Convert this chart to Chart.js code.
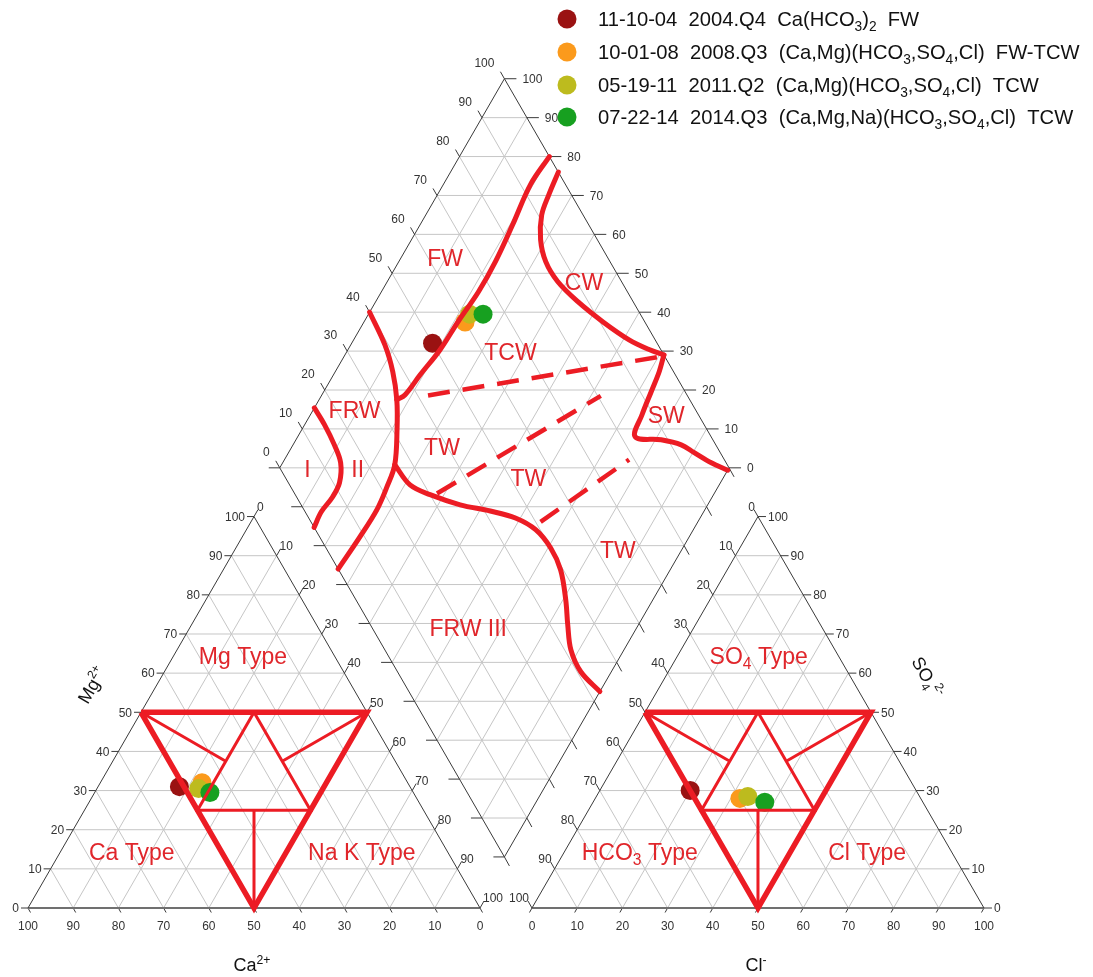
<!DOCTYPE html>
<html>
<head>
<meta charset="utf-8">
<title>Piper diagram</title>
<script src="https://cdn.jsdelivr.net/npm/chart.js@4.4.1/dist/chart.umd.min.js"></script>
<style>
  html, body { margin: 0; padding: 0; background: #fff; }
  #piper { display: block; }
</style>
</head>
<body>
<canvas id="piper" width="1093" height="977"></canvas>
<script>
// samples, meq %
const sampleDates = ['11-10-04', '10-01-08', '05-19-11', '07-22-14'];
const sampleQuarters = ['2004.Q4', '2008.Q3', '2011.Q2', '2014.Q3'];
const sampleTypes = ['Ca(HCO_3)_2', '(Ca,Mg)(HCO_3,SO_4,Cl)', '(Ca,Mg)(HCO_3,SO_4,Cl)', '(Ca,Mg,Na)(HCO_3,SO_4,Cl)'];
const sampleFacies = ['FW', 'FW-TCW', 'TCW', 'TCW'];
const sampleColors = ['#9a1212', '#fb9a1c', '#bdbb1e', '#17a020'];
const ca = [51, 45.5, 47, 45];
const mg = [31, 32, 30.5, 29.5];
const nak = [18, 22.5, 22.5, 25.5];
const hco3 = [50, 40, 38, 35];
const so4 = [30, 28, 28.5, 27];
const cl = [20, 32, 33.5, 38];

const tickValues = [0, 10, 20, 30, 40, 50, 60, 70, 80, 90, 100];

// facies boundaries in the diamond, as [Ca+Mg %, SO4+Cl %]
const fwBoundary = [[80, 100], [80.6, 92.2], [79.4, 83], [78.5, 74.5], [78.4, 66.8], [79.1, 58.5], [79.5, 50.8], [80.7, 43.2], [81.5, 37.2], [82.7, 34.8]];
const frwBoundary = [[100, 40], [92.4, 39.2], [87.2, 37.5], [82.7, 34.8], [78.8, 31], [74.8, 26], [73.7, 21.4], [73, 16.2], [73.3, 8.9], [74, 0]];
const frwSplit = [[100, 15.4], [95.6, 15.5], [90.8, 15.1], [87.1, 14.2], [84.8, 11.4], [84.5, 8], [85.1, 3.6], [84.7, 0]];
const twBoundary = [[74.8, 26], [68.8, 26.8], [63.1, 30], [55.1, 35.4], [47.6, 41.3], [41.1, 46], [35.1, 49], [29.4, 50], [24.4, 49.4], [19.4, 46.7], [15.7, 43.9], [11.8, 41.4], [6.8, 40.8], [0, 42.5]];
const cwBoundary = [[76, 100], [75.2, 94.9], [74.2, 90.8], [71.3, 87.4], [67.3, 85.7], [62.1, 85.8], [55, 87.7], [46.8, 90.7], [38.7, 94.2], [33, 97.4], [29, 100]];
const swBoundary = [[29, 100], [27.9, 96.8], [27.1, 92.4], [26.2, 87.5], [24.9, 83.1], [18.7, 88.5], [13.6, 92.3], [9.7, 94.2], [4.6, 96.7], [0, 99.4]];
const dashedBoundaries = [
  [[76.3, 42.3], [29.4, 99.2]],
  [[61.7, 31.7], [37.8, 80.7]],
  [[35, 51.1], [23.3, 78.8]],
];

// dominant-type subdivision of each triangle, as [left corner %, top corner %]
const typeOuter = [[50, 50], [0, 50], [50, 0], [50, 50]];
const typeInner = [[25, 50], [50, 25], [25, 25], [25, 50]];
const typeSpokes = [[[50, 50], [37.5, 37.5]], [[0, 50], [25, 37.5]], [[50, 0], [37.5, 25]]];

// label anchors
const diamondNames = [['FW', 90.2, 63.8], ['CW', 56.2, 91.6], ['TCW', 63.6, 66.3], ['FRW', 90.8, 24.1], ['SW', 20.8, 92.8],
  ['TW', 66.6, 38.8], ['TW', 43.4, 54.1], ['I', 93.7, 6], ['II', 82.5, 17.2], ['TW', 14.2, 64.7], ['FRW III', 37.5, 21.4]];
const cationNames = [['Mg Type', 20.2, 64.5], ['Ca Type', 69.8, 14.5], ['Na K Type', 18.9, 14.5]];
const anionNames = [['SO_4 Type', 17.6, 64.5], ['HCO_3 Type', 68.9, 14.5], ['Cl Type', 18.6, 14.5]];

const FONT = "'Liberation Sans', Arial, Helvetica, sans-serif";
const RED = '#ec1c24';
const RED_TEXT = '#e0262b';

// geometry in chart units: triangle side = 100
const SIDE = 100;
const R32 = Math.sqrt(3) / 2;
const ANION_X0 = 111.5;
const DIAMOND = { x: 105.4, y: 11.3, side: 99.4 };
const PX_PER_UNIT = 4.52;
const ORIGIN = { x: 28, y: 908 };

function tern(x0, left, top) {
  return { x: x0 + (100 - left - top / 2) / 100 * SIDE, y: top / 100 * SIDE * R32 };
}
const cat = (c, m) => tern(0, c, m);
const an = (h, s) => tern(ANION_X0, h, s);
function dia(camg, so4cl) {
  const s = camg / 100, t = so4cl / 100, h = DIAMOND.side * R32;
  return { x: DIAMOND.x + (t - s) * DIAMOND.side / 2, y: DIAMOND.y + (s + t) * h };
}
// shift a point by screen pixels
const nudge = (p, dx, dy) => ({ x: p.x + dx / PX_PER_UNIT, y: p.y - dy / PX_PER_UNIT });

// grid
const grid = [];
tickValues.slice(1, -1).forEach(k => {
  [0, ANION_X0].forEach(x0 => {
    grid.push([tern(x0, 100 - k, k), tern(x0, 0, k)]);
    grid.push([tern(x0, k, 0), tern(x0, k, 100 - k)]);
    grid.push([tern(x0, 100 - k, 0), tern(x0, 0, 100 - k)]);
  });
  grid.push([dia(k, 0), dia(k, 100)]);
  grid.push([dia(0, k), dia(100, k)]);
});
for (let c = 10; c < 200; c += 10) {
  grid.push(c <= 100 ? [dia(c, 0), dia(0, c)] : [dia(100, c - 100), dia(c - 100, 100)]);
}

const outlines = [
  [cat(100, 0), cat(0, 100), cat(0, 0)],
  [an(100, 0), an(0, 100), an(0, 0)],
  [dia(0, 0), dia(100, 0), dia(100, 100), dia(0, 100), dia(0, 0)],
];
const bases = [[cat(100, 0), cat(0, 0)], [an(100, 0), an(0, 0)]];

// edges: where each tick sits, tick direction and label offset (screen px)
const axes = [
  { at: k => cat(100 - k, k), tick: [-7, 0], text: [-9, 0], align: 'right' },
  { at: k => cat(k, 0), tick: [2.5, 4.5], text: [0, 18], align: 'center' },
  { at: k => cat(0, 100 - k), tick: [4, -7], text: [3, -10], align: 'left' },
  { at: k => an(k, 100 - k), tick: [-4, -7], text: [-3, -10], align: 'right' },
  { at: k => an(0, k), tick: [8, 0], text: [10, 0], align: 'left' },
  { at: k => an(100 - k, 0), tick: [-2.5, 4.5], text: [0, 18], align: 'center' },
  { at: k => dia(100, k), tick: [-4, -7], text: [-10, -16], align: 'right' },
  { at: k => dia(k, 100), tick: [12, 0], text: [18, 0], align: 'left' },
  { at: k => dia(k, 0), tick: [-11, 0] },
  { at: k => dia(0, k), tick: [5, 9] },
];
const ticks = [];
axes.forEach(a => tickValues.forEach(k => {
  const p = a.at(k);
  ticks.push([p, nudge(p, a.tick[0], a.tick[1])]);
}));

function lineSet(segments, style) {
  const data = [];
  segments.forEach(seg => {
    seg.forEach(p => data.push(p));
    data.push({ x: null, y: null });
  });
  return Object.assign({
    data, showLine: true, pointRadius: 0, pointHoverRadius: 0, fill: false,
    clip: false, spanGaps: false, borderWidth: 1, tension: 0,
  }, style);
}
const toDia = pts => pts.map(p => dia(p[0], p[1]));
const curveSet = pts => ({
  data: toDia(pts), showLine: true, pointRadius: 0, pointHoverRadius: 0, fill: false, clip: false,
  borderColor: RED, borderWidth: 5, tension: 0.35, borderCapStyle: 'round', borderJoinStyle: 'round', order: 10,
});
const typeShape = fn => [typeOuter.map(p => fn(p[0], p[1]))];
const typeLines = fn => [typeInner.map(p => fn(p[0], p[1]))].concat(typeSpokes.map(s => s.map(p => fn(p[0], p[1]))));

const datasets = [
  lineSet(grid, { borderColor: '#c6c6c6', borderWidth: 1, order: 100 }),
  lineSet(outlines, { borderColor: '#3a3a3a', borderWidth: 1, order: 90 }),
  lineSet(bases, { borderColor: '#707070', borderWidth: 2, order: 90 }),
  lineSet(ticks, { borderColor: '#3a3a3a', borderWidth: 1, order: 90 }),
];
sampleDates.forEach((d, i) => {
  datasets.push({
    data: [cat(ca[i], mg[i]), an(hco3[i], so4[i]), dia(ca[i] + mg[i], so4[i] + cl[i])],
    pointRadius: 9.5, pointHoverRadius: 9.5, pointBorderWidth: 0,
    backgroundColor: sampleColors[i], borderColor: sampleColors[i], clip: false, order: 50 - i,
  });
});
datasets.push(
  lineSet(typeShape(cat).concat(typeShape(an)), { borderColor: RED, borderWidth: 5.5, borderJoinStyle: 'miter', order: 10 }),
  lineSet(typeLines(cat).concat(typeLines(an)), { borderColor: RED, borderWidth: 3, order: 10 }),
  curveSet(fwBoundary), curveSet(frwBoundary), curveSet(frwSplit),
  curveSet(twBoundary), curveSet(cwBoundary), curveSet(swBoundary),
  lineSet(dashedBoundaries.map(toDia), { borderColor: RED, borderWidth: 4.5, borderDash: [22, 13], order: 10 }),
);

// text with _x / _{..} subscripts and ^{..} superscripts
function parseRich(str) {
  const parts = [];
  const re = /_\{([^}]*)\}|\^\{([^}]*)\}|_(.)|([^_^]+)/g;
  let m;
  while ((m = re.exec(str))) {
    if (m[1] !== undefined) parts.push({ t: m[1], k: 'sub' });
    else if (m[2] !== undefined) parts.push({ t: m[2], k: 'sup' });
    else if (m[3] !== undefined) parts.push({ t: m[3], k: 'sub' });
    else parts.push({ t: m[4], k: '' });
  }
  return parts;
}
function drawRich(ctx, str, x, y, size, align) {
  const parts = parseRich(str);
  let w = 0;
  parts.forEach(p => {
    p.size = p.k ? size * 0.68 : size;
    ctx.font = p.size + 'px ' + FONT;
    p.w = ctx.measureText(p.t).width;
    w += p.w;
  });
  let cx = align === 'center' ? x - w / 2 : align === 'right' ? x - w : x;
  const base = y + size * 0.36;
  ctx.textAlign = 'left';
  ctx.textBaseline = 'alphabetic';
  parts.forEach(p => {
    ctx.font = p.size + 'px ' + FONT;
    const dy = p.k === 'sub' ? size * 0.24 : p.k === 'sup' ? -size * 0.42 : 0;
    ctx.fillText(p.t, cx, base + dy);
    cx += p.w;
  });
}

const whiteBackground = {
  id: 'whiteBackground',
  beforeDraw(chart) {
    const ctx = chart.ctx;
    ctx.save();
    ctx.fillStyle = '#fff';
    ctx.fillRect(0, 0, chart.width, chart.height);
    ctx.restore();
  },
};

const piperText = {
  id: 'piperText',
  afterDatasetsDraw(chart) {
    const ctx = chart.ctx;
    const toPx = p => ({ x: chart.scales.x.getPixelForValue(p.x), y: chart.scales.y.getPixelForValue(p.y) });
    ctx.save();

    // tick labels
    ctx.fillStyle = '#333';
    axes.forEach(a => {
      if (!a.text) return;
      tickValues.forEach(k => {
        const p = toPx(a.at(k));
        drawRich(ctx, String(k), p.x + a.text[0], p.y + a.text[1], 12, a.align);
      });
    });

    // facies and type names
    ctx.fillStyle = RED_TEXT;
    diamondNames.forEach(([t, s, u]) => { const p = toPx(dia(s, u)); drawRich(ctx, t, p.x, p.y, 23, 'center'); });
    cationNames.forEach(([t, a, b]) => { const p = toPx(cat(a, b)); drawRich(ctx, t, p.x, p.y, 23, 'center'); });
    anionNames.forEach(([t, a, b]) => { const p = toPx(an(a, b)); drawRich(ctx, t, p.x, p.y, 23, 'center'); });

    // axis titles
    ctx.fillStyle = '#111';
    let p = toPx(cat(50, 0));
    drawRich(ctx, 'Ca^{2+}', p.x - 2, p.y + 57, 18, 'center');
    p = toPx(an(50, 0));
    drawRich(ctx, 'Cl^{-}', p.x - 2, p.y + 57, 18, 'center');
    p = toPx(cat(43, 57));
    ctx.save();
    ctx.translate(p.x - 65, p.y);
    ctx.rotate(-Math.PI / 3);
    drawRich(ctx, 'Mg^{2+}', 0, 0, 18, 'center');
    ctx.restore();
    p = toPx(an(0, 59));
    ctx.save();
    ctx.translate(p.x + 77, p.y);
    ctx.rotate(Math.PI / 3);
    drawRich(ctx, 'SO_4^{2-}', 0, 0, 18, 'center');
    ctx.restore();

    // legend
    const rows = [19, 52, 85, 117];
    sampleDates.forEach((d, i) => {
      ctx.fillStyle = sampleColors[i];
      ctx.beginPath();
      ctx.arc(567, rows[i], 9.5, 0, Math.PI * 2);
      ctx.fill();
      ctx.fillStyle = '#111';
      drawRich(ctx, `${d}  ${sampleQuarters[i]}  ${sampleTypes[i]}  ${sampleFacies[i]}`, 598, rows[i], 20.2, 'left');
    });
    ctx.restore();
  },
};

new Chart(document.getElementById('piper'), {
  type: 'scatter',
  data: { datasets },
  options: {
    responsive: false,
    animation: false,
    events: [],
    layout: { padding: 0, autoPadding: false },
    scales: {
      x: { type: 'linear', display: false, min: -ORIGIN.x / PX_PER_UNIT, max: (1093 - ORIGIN.x) / PX_PER_UNIT },
      y: { type: 'linear', display: false, min: (ORIGIN.y - 977) / PX_PER_UNIT, max: ORIGIN.y / PX_PER_UNIT },
    },
    plugins: { legend: { display: false }, tooltip: { enabled: false } },
  },
  plugins: [whiteBackground, piperText],
});
</script>
</body>
</html>
